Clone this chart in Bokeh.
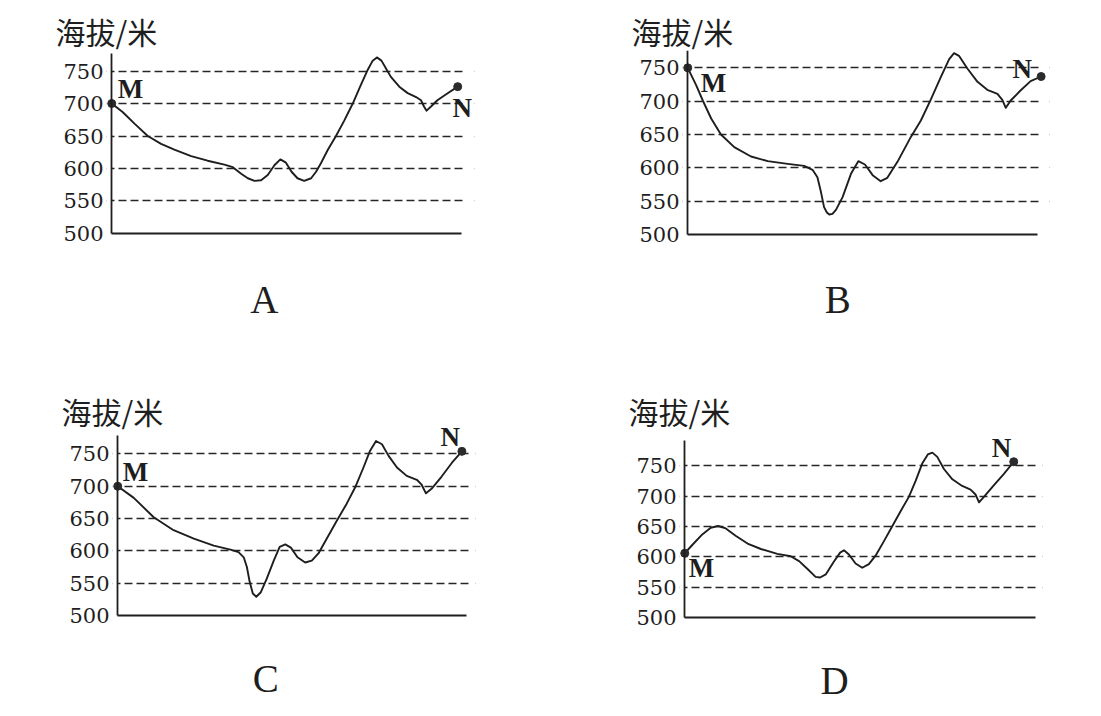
from bokeh.plotting import figure
from bokeh.layouts import row, column
from bokeh.models import FixedTicker, Label, Title, BoxAnnotation, LinearAxis
from bokeh.embed import file_html
from bokeh.resources import INLINE

# ---------------- data ----------------
y_ticks = [500, 550, 600, 650, 700, 750]
panel_letters = ["A", "B", "C", "D"]
axis_title = "海拔/米"
start_label = "M"
end_label = "N"

a_dist = [0, 3.1, 6.5, 10.3, 14.1, 17.9, 22.7, 27.4, 32.2, 34.6, 37.0, 38.9, 40.8, 42.7, 44.6,
          46.5, 48.2, 49.8, 51.4, 53.1, 55.0, 57.0, 58.4, 59.8, 61.7, 64.1, 66.5, 68.9, 71.0,
          73.0, 74.6, 75.8, 77.1, 78.4, 79.8, 82.2, 84.6, 87.0, 88.4, 89.3, 90.0, 91.2, 93.1,
          95.5, 98.9]
a_elev = [700, 687, 669, 650, 638, 629, 619, 612, 606, 602, 592, 585, 581, 582, 590,
          605, 614, 609, 595, 585, 581, 585, 595, 608, 628, 650, 674, 700, 726,
          750, 766, 771, 766, 754, 741, 726, 716, 710, 705, 695, 689, 695, 705,
          714, 726]

b_dist = [0, 2.4, 4.3, 6.7, 9.5, 13.3, 18.1, 22.9, 28.6, 33.3, 35.7, 37.1, 38.1, 39.0, 39.8,
          40.5, 41.4, 42.4, 44.3, 46.7, 48.8, 50.7, 52.9, 55.2, 57.1, 60.0, 63.8, 66.7, 69.5,
          72.4, 74.8, 76.2, 77.6, 80.0, 82.9, 85.7, 88.6, 90.0, 91.0, 92.4, 95.2, 98.1, 101.1]
b_elev = [750, 724, 701, 674, 650, 631, 617, 610, 606, 603, 597, 586, 564, 541, 533,
          530, 531, 537, 556, 591, 610, 605, 589, 580, 585, 609, 646, 671, 702,
          736, 763, 772, 768, 749, 729, 717, 711, 702, 690, 701, 716, 730, 737]

c_dist = [0, 4.6, 10.3, 16.0, 21.8, 27.5, 32.3, 34.6, 36.1, 37.0, 37.8, 38.7, 39.7, 41.0, 42.7,
          44.7, 46.4, 48.0, 49.6, 51.5, 53.7, 55.6, 57.5, 59.9, 62.8, 65.6, 68.0, 70.4, 72.3,
          74.0, 75.7, 77.6, 80.0, 82.8, 85.7, 87.0, 88.3, 89.9, 92.8, 95.7, 98.6]
c_elev = [700, 682, 652, 632, 619, 608, 602, 598, 590, 575, 552, 534, 529, 536, 557,
          585, 606, 610, 605, 590, 582, 585, 596, 619, 647, 673, 698, 729, 755,
          770, 765, 747, 729, 716, 710, 703, 689, 696, 715, 736, 754]

d_dist = [0, 2.2, 5.0, 7.4, 9.5, 11.7, 14.5, 17.9, 21.7, 26.4, 30.2, 32.6, 35.0, 37.3, 38.6,
          40.2, 42.4, 44.3, 45.4, 46.8, 48.7, 50.6, 52.5, 54.4, 56.8, 59.2, 61.5, 63.9, 65.8,
          67.7, 69.3, 70.6, 72.0, 73.9, 76.3, 79.1, 81.5, 82.9, 83.9, 85.3, 88.1, 91.0, 93.8]
d_elev = [606, 620, 637, 648, 651, 647, 635, 622, 613, 605, 601, 593, 580, 567, 566,
          571, 591, 607, 611, 604, 589, 582, 588, 602, 626, 651, 675, 699, 725,
          754, 769, 772, 765, 745, 728, 717, 711, 703, 690, 699, 718, 737, 757]

series = [(a_dist, a_elev), (b_dist, b_elev), (c_dist, c_elev), (d_dist, d_elev)]

# ---------------- layout / style config ----------------
INK = "#1e1e1e"
cfg = [
    dict(w=553, h=328, xr=(-1.5, 103.7), yr=(363, 781.6), ytop=777, gx=101.1,
         bl=106, br=79, bt=50, bb=6, ts=-4,
         m=(6, 15, "left"), n=(4.5, -21, "center"), let=(43.6, 398.7)),
    dict(w=540, h=328, xr=(-1.5, 103.5), yr=(368, 776), ytop=776, gx=101.2,
         bl=129, br=44, bt=50, bb=6, ts=-4,
         m=(13, -15, "left"), n=(-9, 8, "right"), let=(42.9, 402.5)),
    dict(w=553, h=384, xr=(-1.5, 102.5), yr=(365.3, 794), ytop=778.6, gx=100.9,
         bl=112, br=78, bt=97, bb=10, ts=-15,
         m=(5, 14.5, "left"), n=(-2, 14, "right"), let=(42.4, 401.7)),
    dict(w=540, h=384, xr=(-1.5, 102.0), yr=(359.7, 816.8), ytop=791.5, gx=100.9,
         bl=126, br=51, bt=97, bb=10, ts=-15,
         m=(4, -15, "left"), n=(-2.5, 14, "right"), let=(42.7, 395.2)),
]


def bare_axis(ax):
    ax.ticker = FixedTicker(ticks=[])
    ax.major_tick_line_color = None
    ax.minor_tick_line_color = None
    ax.major_tick_in = 0
    ax.major_tick_out = 0
    ax.major_label_standoff = 0
    ax.major_label_text_font_size = "0px"


def make_panel(dist, elev, letter, c):
    p = figure(width=c["w"], height=c["h"], x_range=c["xr"], y_range=c["yr"],
               output_backend="svg", toolbar_location=None, tools="",
               min_border_left=c["bl"], min_border_right=c["br"],
               min_border_top=c["bt"], min_border_bottom=c["bb"])
    p.outline_line_color = None
    p.background_fill_color = "white"
    p.border_fill_color = "white"
    p.xgrid.visible = False

    # title above the axis
    p.title = Title(text=axis_title, align="left", offset=-51, standoff=c["ts"],
                    text_font="Noto Sans CJK SC", text_font_size="30px",
                    text_font_style="normal", text_color=INK)

    # y axis: tick labels only
    yax = p.yaxis[0]
    yax.ticker = FixedTicker(ticks=y_ticks)
    yax.axis_line_color = None
    yax.major_tick_line_color = None
    yax.minor_tick_line_color = None
    yax.major_tick_in = 0
    yax.major_tick_out = 0
    yax.major_label_standoff = 3
    yax.major_label_text_font = "DejaVu Serif"
    yax.major_label_text_font_size = "21px"
    yax.major_label_text_color = INK

    # y axis line at distance 0
    yline = LinearAxis(fixed_location=0, bounds=(y_ticks[0], c["ytop"]),
                       axis_line_color=INK, axis_line_width=1.8)
    bare_axis(yline)
    p.add_layout(yline, "left")

    # x axis line at the lowest tick
    xax = p.xaxis[0]
    bare_axis(xax)
    xax.fixed_location = y_ticks[0]
    xax.bounds = (0, 100)
    xax.axis_line_color = INK
    xax.axis_line_width = 1.8

    # dashed grid
    g = p.ygrid[0]
    g.ticker = FixedTicker(ticks=y_ticks[1:])
    g.grid_line_color = "#262626"
    g.grid_line_width = 1.6
    g.grid_line_dash = "8 4"

    # trim grid lines to the drawing area
    p.add_layout(BoxAnnotation(right=0, fill_color="white", fill_alpha=1.0,
                               line_color=None, level="underlay"))
    p.add_layout(BoxAnnotation(left=c["gx"], fill_color="white", fill_alpha=1.0,
                               line_color=None, level="underlay"))

    # profile
    p.line(dist, elev, line_color=INK, line_width=1.9, line_join="round")
    p.scatter([dist[0], dist[-1]], [elev[0], elev[-1]], size=8,
              fill_color="#2b2b2b", line_color="#2b2b2b")

    mx, my, ma = c["m"]
    p.add_layout(Label(x=dist[0], y=elev[0], text=start_label, x_offset=mx, y_offset=my,
                       text_align=ma, text_baseline="middle",
                       text_font="Liberation Serif", text_font_style="bold",
                       text_font_size="27px", text_color=INK))
    nx, ny, na = c["n"]
    p.add_layout(Label(x=dist[-1], y=elev[-1], text=end_label, x_offset=nx, y_offset=ny,
                       text_align=na, text_baseline="middle",
                       text_font="Liberation Serif", text_font_style="bold",
                       text_font_size="27px", text_color=INK))

    # panel letter under the chart
    lx, ly = c["let"]
    p.add_layout(Label(x=lx, y=ly, text=letter, text_align="center",
                       text_baseline="middle", text_font="Liberation Serif",
                       text_font_style="normal", text_font_size="39px",
                       text_color=INK))
    return p


figs = [make_panel(d, e, L, c) for (d, e), L, c in zip(series, panel_letters, cfg)]
layout = column(row(figs[0], figs[1]), row(figs[2], figs[3]))

open("out.html", "w").write(file_html(layout, INLINE))
